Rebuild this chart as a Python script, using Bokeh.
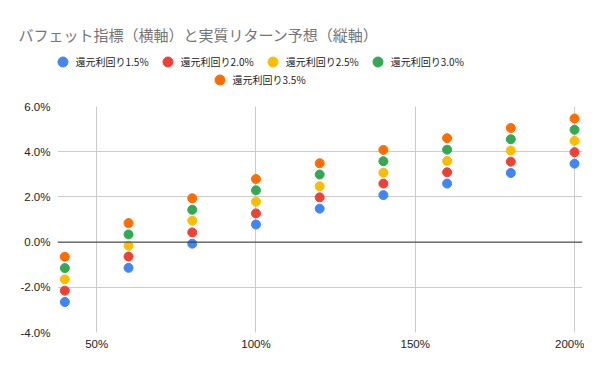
from bokeh.plotting import figure
from bokeh.layouts import column
from bokeh.models import (ColumnDataSource, Legend, LegendItem, Label, Span,
                          FixedTicker, PrintfTickFormatter, Range1d)
from bokeh.embed import file_html
from bokeh.resources import INLINE

# ---- data ----
buffett = [40, 60, 80, 100, 120, 140, 160, 180, 200]   # バフェット指標 (%)
series_names = ["還元利回り1.5%", "還元利回り2.0%", "還元利回り2.5%", "還元利回り3.0%", "還元利回り3.5%"]
y15 = [-2.65, -1.14, -0.07, 0.78, 1.48, 2.08, 2.59, 3.06, 3.47]
y20 = [-2.15, -0.64, 0.43, 1.27, 1.98, 2.59, 3.09, 3.56, 3.98]
y25 = [-1.65, -0.16, 0.95, 1.79, 2.47, 3.07, 3.59, 4.05, 4.48]
y30 = [-1.15, 0.34, 1.43, 2.29, 2.99, 3.58, 4.09, 4.55, 4.97]
y35 = [-0.65, 0.84, 1.94, 2.79, 3.49, 4.08, 4.60, 5.05, 5.47]
colors = ["#4285F4", "#EA4335", "#FBBC04", "#34A853", "#FF6D01"]
y_ticks = [-4, -2, 0, 2, 4, 6]
x_ticks = [50, 100, 150, 200]
title_text = "バフェット指標（横軸）と実質リターン予想（縦軸）"

W = 584
TOP_H = 96
MAIN_H = 355 - TOP_H

sources = [ColumnDataSource(dict(x=buffett, y=ys)) for ys in [y15, y20, y25, y30, y35]]

# ---- header figure: title + legend ----
top = figure(width=W, height=TOP_H, output_backend="svg", toolbar_location=None,
             x_range=Range1d(0, 1), y_range=Range1d(0, 1),
             min_border=0, min_border_left=0, min_border_right=0,
             min_border_top=0, min_border_bottom=0)
top.axis.visible = False
top.grid.visible = False
top.outline_line_color = None
try:
    top.frame_align = False
except Exception:
    pass

# legend renderers share the real series data (outside this header's ranges)
leg_r = [top.scatter("x", "y", source=s, size=9, fill_color=c, line_color=c)
         for s, c in zip(sources, colors)]

def make_legend(items, loc):
    return Legend(items=items, location=loc, orientation="horizontal",
                  glyph_width=25, glyph_height=25, label_standoff=1, spacing=6,
                  padding=0, margin=0, border_line_color=None,
                  background_fill_alpha=0,
                  label_text_font="Noto Sans CJK JP", label_text_font_size="10px",
                  label_text_color="#222222", label_height=10)

items = [LegendItem(label=n, renderers=[r]) for n, r in zip(series_names, leg_r)]
top.add_layout(make_legend(items[:4], (49.5, TOP_H - 73.5)), "center")
top.add_layout(make_legend(items[4:], (206.5, TOP_H - 91.5)), "center")

top.add_layout(Label(x=18, y=TOP_H - 34, x_units="screen", y_units="screen",
                     text=title_text, text_font="Noto Sans CJK JP", text_font_size="15px",
                     text_color="#757575", text_baseline="middle", text_align="left"))

# ---- main chart ----
p = figure(width=W, height=MAIN_H, output_backend="svg", toolbar_location=None,
           x_range=Range1d(37.7, 202.5), y_range=Range1d(-4, 6),
           min_border_left=57, min_border_right=2, min_border_top=106 - TOP_H,
           min_border_bottom=23)
p.outline_line_color = None
try:
    p.frame_align = False
except Exception:
    pass

for ax in (p.xaxis[0], p.yaxis[0]):
    ax.axis_line_color = None
    ax.major_tick_line_color = None
    ax.minor_tick_line_color = None
    ax.major_tick_out = 0
    ax.major_tick_in = 0
    ax.minor_tick_out = 0
    ax.major_label_text_font = "Liberation Sans"
    ax.major_label_text_font_size = "11.5px"
    ax.major_label_text_color = "#222222"
p.xaxis.major_label_standoff = 5
p.yaxis.major_label_standoff = 7

p.xaxis.ticker = FixedTicker(ticks=x_ticks)
p.xaxis.formatter = PrintfTickFormatter(format="%d%%")
p.yaxis.ticker = FixedTicker(ticks=y_ticks)
p.yaxis.formatter = PrintfTickFormatter(format="%.1f%%")
p.xgrid.ticker = FixedTicker(ticks=x_ticks)
p.ygrid.ticker = FixedTicker(ticks=y_ticks)
p.xgrid.grid_line_color = "#cccccc"
p.ygrid.grid_line_color = "#cccccc"

p.add_layout(Span(location=0, dimension="width", line_color="#333333", line_width=1))

for s, c in zip(sources, colors):
    p.scatter("x", "y", source=s, size=9, fill_color=c, line_color=c)

layout = column(top, p, spacing=0)
open("out.html", "w").write(file_html(layout, INLINE))
